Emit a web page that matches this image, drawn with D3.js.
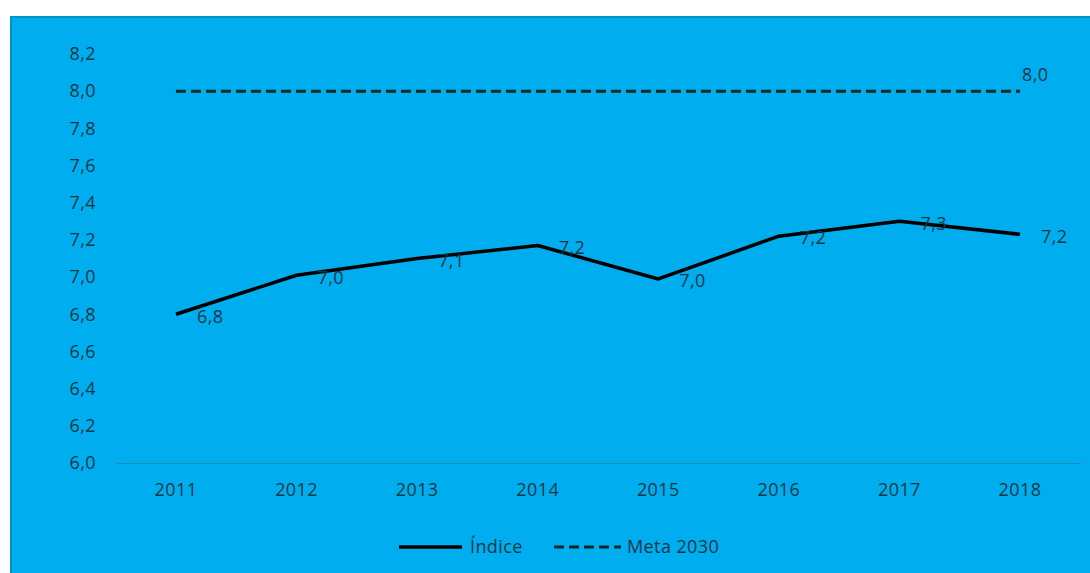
<!DOCTYPE html>
<html><head><meta charset="utf-8">
<script src="https://cdn.jsdelivr.net/npm/d3@7"></script>
<style>
html,body{margin:0;padding:0;background:#fff;}
svg{display:block;font-family:"Open Sans","Noto Sans",sans-serif;}
svg text{font-size:18px;letter-spacing:0.4px;}
</style></head>
<body>
<svg id="c" width="1090" height="573"></svg>
<script>
const years = ["2011","2012","2013","2014","2015","2016","2017","2018"];
const indice = [6.8, 7.01, 7.10, 7.17, 6.99, 7.22, 7.30, 7.23];
const indiceLabels = ["6,8","7,0","7,1","7,2","7,0","7,2","7,3","7,2"];
const meta = [8.0, 8.0, 8.0, 8.0, 8.0, 8.0, 8.0, 8.0];
const metaLabel = "8,0";
const yTicks = [6.0,6.2,6.4,6.6,6.8,7.0,7.2,7.4,7.6,7.8,8.0,8.2];
const legendNames = ["Índice","Meta 2030"];

const svg = d3.select("#c");
const txt = "#123744";
// background
svg.append("rect").attr("x",10).attr("y",16).attr("width",1080).attr("height",557).attr("fill","#00AEEF");
svg.append("line").attr("x1",10).attr("x2",1090).attr("y1",17).attr("y2",17).attr("stroke","#0093c9").attr("stroke-width",2);
svg.append("line").attr("x1",11).attr("x2",11).attr("y1",16).attr("y2",573).attr("stroke","#0093c9").attr("stroke-width",2);

const x = d3.scaleBand().domain(years).range([115.7,1080.3]);
const y = d3.scaleLinear().domain([6.0,8.2]).range([463,54]);
const cx = d => x(d)+x.bandwidth()/2;

// y axis labels
const ya = svg.append("g").attr("transform","translate(96,0)")
  .call(d3.axisLeft(y).tickValues(yTicks).tickSize(0).tickPadding(0)
    .tickFormat(d=>d3.format(".1f")(d).replace(".",",")));
ya.select(".domain").remove();
ya.selectAll("text").attr("fill",txt).style("font-size","18px").style("font-family","'Open Sans',sans-serif");

// x axis
const xa = svg.append("g").attr("transform","translate(0,463)")
  .call(d3.axisBottom(x).tickSize(0).tickPadding(20));
xa.select(".domain").attr("stroke","#1a8dbb").attr("stroke-width",1);
xa.selectAll("text").attr("fill",txt).style("font-size","18px").style("font-family","'Open Sans',sans-serif");

const line = d3.line().x((d,i)=>cx(years[i])).y(d=>y(d));

svg.append("path").datum(meta).attr("d",line).attr("fill","none")
  .attr("stroke","#0c2a1f").attr("stroke-width",3).attr("stroke-dasharray","10,5");
svg.append("path").datum(indice).attr("d",line).attr("fill","none")
  .attr("stroke","#000").attr("stroke-width",3.5).attr("stroke-linejoin","round");

svg.append("g").selectAll("text").data(indice).join("text")
  .attr("x",(d,i)=>cx(years[i])+21).attr("y",(d,i)=>y(d)+2)
  .attr("dy","0.35em").attr("fill",txt)
  .text((d,i)=>indiceLabels[i]);

svg.append("text").attr("x",cx(years[years.length-1])+2).attr("y",y(meta[meta.length-1])-16)
  .attr("dy","0.35em").attr("fill",txt).text(metaLabel);

// legend
const lg = svg.append("g");
lg.append("line").attr("x1",399).attr("x2",462).attr("y1",547).attr("y2",547).attr("stroke","#000").attr("stroke-width",3.5);
lg.append("text").attr("x",470).attr("y",547).attr("dy","0.35em").attr("fill",txt).text(legendNames[0]);
lg.append("line").attr("x1",554).attr("x2",621).attr("y1",547).attr("y2",547).attr("stroke","#0c2a1f").attr("stroke-width",3).attr("stroke-dasharray","10,5");
lg.append("text").attr("x",627).attr("y",547).attr("dy","0.35em").attr("fill",txt).text(legendNames[1]);
</script>
</body></html>
